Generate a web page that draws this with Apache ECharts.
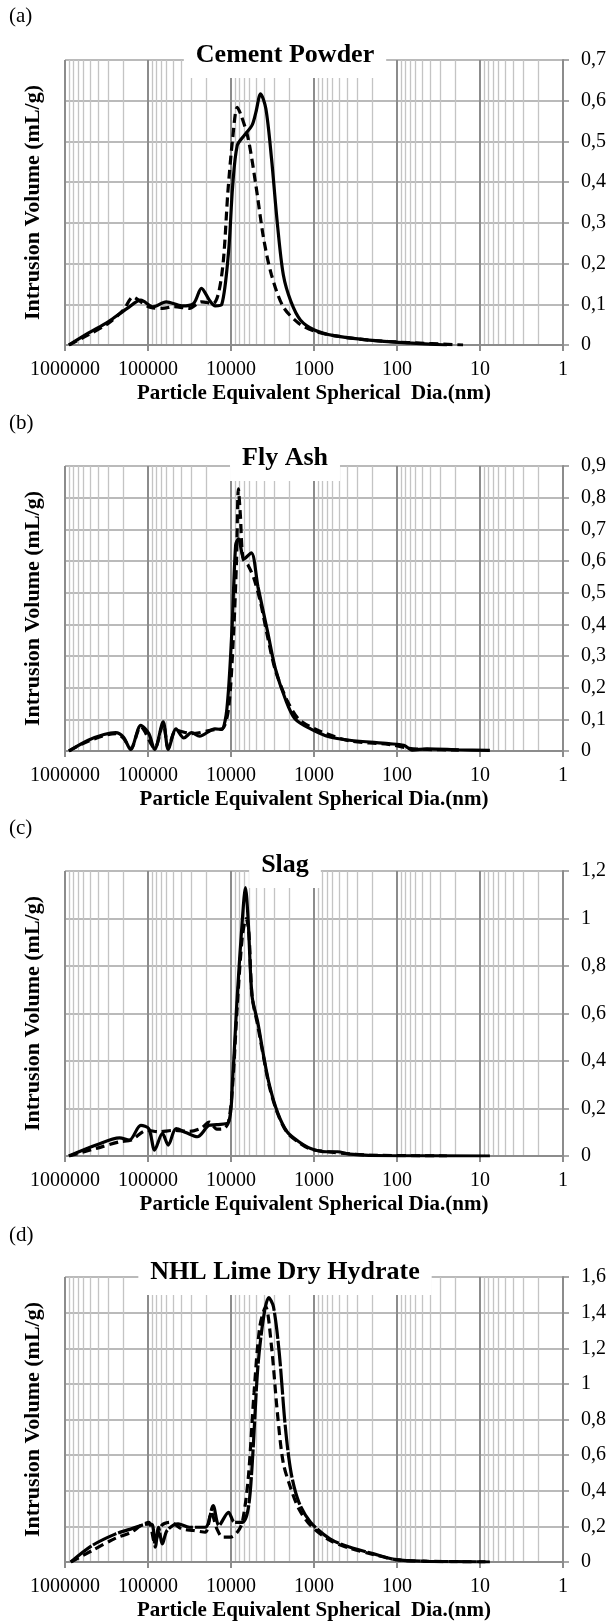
<!DOCTYPE html>
<html>
<head>
<meta charset="utf-8">
<script src="https://cdn.jsdelivr.net/npm/echarts@6/dist/echarts.min.js"></script>
<style>
  html, body { margin: 0; padding: 0; background: #fff; }
  #chart { width: 610px; height: 1624px; }
</style>
</head>
<body>
<div id="chart"></div>
<script>
// panel texts and y scales
const panelLabels = ['(a)', '(b)', '(c)', '(d)']
const panelTitles = ['Cement Powder', 'Fly Ash', 'Slag', 'NHL Lime Dry Hydrate']
const xTitles = [
  'Particle Equivalent Spherical  Dia.(nm)',
  'Particle Equivalent Spherical Dia.(nm)',
  'Particle Equivalent Spherical Dia.(nm)',
  'Particle Equivalent Spherical  Dia.(nm)',
]
const yName = 'Intrusion Volume (mL/g)'
const yMax = [0.7, 0.9, 1.2, 1.6]
const yStep = [0.1, 0.1, 0.2, 0.2]

// [diameter nm, intrusion mL/g]
const cementSolid = [
  [897000, 0], [525000, 0.029], [302000, 0.057], [178000, 0.09], [122000, 0.11],
  [87100, 0.094], [60300, 0.106], [38900, 0.096], [28200, 0.102], [22700, 0.139],
  [18200, 0.11], [15500, 0.096], [12900, 0.1], [10700, 0.229], [9550, 0.39],
  [8410, 0.49], [6920, 0.515], [5570, 0.54], [5010, 0.572], [4400, 0.617],
  [3800, 0.58], [3250, 0.458], [2750, 0.294], [2340, 0.172], [1890, 0.106],
  [1450, 0.061], [990, 0.037], [575, 0.023], [218, 0.012], [74, 0.005], [25, 0],
]
const cementDash = [
  [897000, 0], [525000, 0.025], [302000, 0.053], [198000, 0.086], [151000, 0.118],
  [122000, 0.106], [92700, 0.092], [67000, 0.09], [48400, 0.094], [31600, 0.09],
  [22700, 0.106], [16400, 0.102], [14000, 0.131], [12300, 0.212], [10900, 0.376],
  [9550, 0.507], [8410, 0.584], [7550, 0.564], [6210, 0.507], [5010, 0.392],
  [4040, 0.261], [3250, 0.172], [2350, 0.094], [1520, 0.053], [990, 0.034],
  [575, 0.023], [218, 0.012], [74, 0.006], [16, 0],
]
const flyAshSolid = [
  [897000, 0], [525000, 0.034], [339000, 0.052], [245000, 0.058], [198000, 0.044],
  [162000, 0.005], [122000, 0.081], [97700, 0.055], [83200, 0.005], [65600, 0.092],
  [57000, 0.005], [45900, 0.07], [37000, 0.041], [29800, 0.058], [24000, 0.047],
  [15600, 0.07], [13000, 0.068], [11200, 0.134], [9770, 0.376], [8790, 0.65],
  [8150, 0.67], [6920, 0.607], [5700, 0.626], [4740, 0.52], [3620, 0.376],
  [2920, 0.26], [2220, 0.165], [1700, 0.102], [1100, 0.07], [643, 0.044],
  [374, 0.034], [126, 0.023], [83, 0.018], [66, 0.003], [43, 0.007], [18, 0.004], [7.6, 0.002],
]
const flyAshDash = [
  [897000, 0], [525000, 0.031], [245000, 0.055], [198000, 0.041], [162000, 0.007],
  [122000, 0.076], [83200, 0.009], [65600, 0.086], [57000, 0.009], [45900, 0.065],
  [29800, 0.055], [15600, 0.068], [12700, 0.07], [10700, 0.134], [9380, 0.355],
  [8590, 0.597], [8150, 0.828], [7710, 0.744], [7150, 0.607], [6210, 0.586],
  [5280, 0.544], [4400, 0.468], [3620, 0.36], [2920, 0.255], [2110, 0.16],
  [1520, 0.1], [887, 0.065], [374, 0.032], [126, 0.021], [74, 0.009], [43, 0.005], [18, 0.003],
]
const slagSolid = [
  [897000, 0], [421000, 0.046], [220000, 0.076], [168000, 0.067], [122000, 0.129],
  [97700, 0.115], [83200, 0.025], [67000, 0.095], [57000, 0.046], [45900, 0.115],
  [35100, 0.099], [25400, 0.081], [18300, 0.129], [14800, 0.132], [10700, 0.143],
  [9570, 0.324], [8410, 0.672], [7310, 0.992], [6700, 1.13], [6210, 0.992],
  [5570, 0.672], [4740, 0.56], [4040, 0.42], [3430, 0.296], [2760, 0.185],
  [2110, 0.102], [1520, 0.06], [1100, 0.032], [714, 0.018], [518, 0.018],
  [374, 0.008], [126, 0.001], [7.6, 0],
]
const slagDash = [
  [897000, 0], [421000, 0.032], [220000, 0.06], [159000, 0.067], [103000, 0.108],
  [74700, 0.102], [48400, 0.108], [31500, 0.104], [22700, 0.118], [18300, 0.143],
  [14800, 0.113], [12200, 0.115], [10700, 0.143], [9570, 0.296], [8410, 0.63],
  [7310, 0.922], [6560, 1.0], [6080, 0.936], [5570, 0.672], [4740, 0.546],
  [4040, 0.414], [3430, 0.289], [2760, 0.181], [2110, 0.099], [1520, 0.057],
  [1100, 0.029], [575, 0.015], [218, 0.004], [25, 0],
]
const limeSolid = [
  [851000, 0], [469000, 0.093], [245000, 0.158], [159000, 0.186], [97700, 0.214],
  [87900, 0.205], [81500, 0.084], [74700, 0.195], [67000, 0.102], [58900, 0.177],
  [43400, 0.214], [31500, 0.195], [20400, 0.195], [16400, 0.316], [14000, 0.205],
  [10700, 0.279], [9080, 0.223], [7310, 0.223], [6210, 0.298], [5570, 0.54],
  [4740, 1.098], [4040, 1.377], [3510, 1.485], [3080, 1.433], [2620, 1.172],
  [2220, 0.763], [1890, 0.502], [1520, 0.335], [1100, 0.223], [643, 0.13],
  [374, 0.084], [195, 0.047], [102, 0.013], [43, 0.004], [7.6, 0],
]
const limeDash = [
  [851000, 0], [469000, 0.065], [245000, 0.134], [159000, 0.167], [122000, 0.205],
  [97700, 0.223], [83200, 0.112], [68500, 0.205], [54000, 0.223], [39100, 0.186],
  [28200, 0.177], [20400, 0.167], [17300, 0.279], [14800, 0.186], [12600, 0.14],
  [10100, 0.14], [8410, 0.167], [7310, 0.223], [6210, 0.465], [5280, 0.949],
  [4500, 1.321], [3820, 1.433], [3250, 1.209], [2760, 0.837], [2350, 0.558],
  [1890, 0.409], [1520, 0.298], [1100, 0.205], [643, 0.121], [374, 0.078],
  [195, 0.043], [102, 0.013], [43, 0.004], [7.6, 0],
]

const solidSets = [cementSolid, flyAshSolid, slagSolid, limeSolid]
const dashSets = [cementDash, flyAshDash, slagDash, limeDash]

const FONT = '"Liberation Serif", "Times New Roman", serif'
const gridTops = [60, 466, 871, 1277]
const plotH = 285
const titleCenterY = [55, 458, 865, 1272]
const labelCenterY = [18, 425, 830, 1237]
const titleCenterX = 285

const measure = document.createElement('canvas').getContext('2d')
measure.font = 'bold 26px "Liberation Serif"'

const fmtY = (v) => (v === 0 ? '0' : String(+v.toFixed(1)).replace('.', ','))

const option = {
  animation: false,
  backgroundColor: '#fff',
  textStyle: { fontFamily: FONT },
  title: panelTitles.map((t, i) => ({
    text: t,
    left: titleCenterX - measure.measureText(t).width / 2 - 12,
    top: titleCenterY[i] - 23,
    padding: [10, 12],
    backgroundColor: '#fff',
    textStyle: { fontFamily: FONT, fontSize: 26, fontWeight: 'bold', color: '#000', lineHeight: 26 },
  })),
  graphic: panelLabels.map((t, i) => ({
    type: 'text',
    left: 9,
    top: labelCenterY[i] - 12,
    style: { text: t, font: '21px ' + FONT, fill: '#000' },
  })),
  grid: gridTops.map((top) => ({ left: 65, right: 47, top, height: plotH })),
  xAxis: gridTops.map((_, i) => ({
    gridIndex: i,
    type: 'log',
    logBase: 10,
    min: 1,
    max: 1000000,
    inverse: true,
    name: xTitles[i],
    nameLocation: 'middle',
    nameGap: 38,
    nameTextStyle: { fontFamily: FONT, fontSize: 21, fontWeight: 'bold', color: '#000' },
    axisLine: { lineStyle: { color: '#8c8c8c', width: 2 } },
    axisTick: { show: true, length: 6, lineStyle: { color: '#8c8c8c', width: 2 } },
    axisLabel: {
      margin: 15,
      fontFamily: FONT,
      fontSize: 20,
      color: '#000',
      formatter: (v) => String(Math.round(v)),
    },
    splitLine: { show: true, lineStyle: { color: '#8c8c8c', width: 2 } },
    minorTick: { show: false, splitNumber: 9 },
    minorSplitLine: { show: true, lineStyle: { color: '#c4c4c4', width: 1.3 } },
  })),
  yAxis: [
    ...gridTops.map((_, i) => ({
      gridIndex: i,
      type: 'value',
      position: 'right',
      min: 0,
      max: yMax[i],
      interval: yStep[i],
      axisLine: { show: true, lineStyle: { color: '#8c8c8c', width: 2 } },
      axisTick: { show: true, length: 6, lineStyle: { color: '#8c8c8c', width: 1.5 } },
      axisLabel: { margin: 18, fontFamily: FONT, fontSize: 20, color: '#000', formatter: fmtY },
      splitLine: { show: true, lineStyle: { color: '#a3a3a3', width: 1.6 } },
    })),
    ...gridTops.map((_, i) => ({
      gridIndex: i,
      type: 'value',
      position: 'left',
      min: 0,
      max: 1,
      name: yName,
      nameLocation: 'middle',
      nameGap: 21,
      nameTextStyle: { fontFamily: FONT, fontSize: 22, fontWeight: 'bold', color: '#000' },
      axisLine: { show: false },
      axisTick: { show: false },
      axisLabel: { show: false },
      splitLine: { show: false },
    })),
  ],
  series: [
    ...solidSets.map((data, i) => ({
      type: 'line',
      xAxisIndex: i,
      yAxisIndex: i,
      data,
      smooth: 0.3,
      showSymbol: false,
      lineStyle: { color: '#000', width: 3.2, type: i === 3 ? [26, 2] : 'solid' },
      z: 3,
    })),
    ...dashSets.map((data, i) => ({
      type: 'line',
      xAxisIndex: i,
      yAxisIndex: i,
      data,
      smooth: 0.3,
      showSymbol: false,
      lineStyle: { color: '#000', width: 3.2, type: [9, 5] },
      z: 4,
    })),
  ],
}

const chart = echarts.init(document.getElementById('chart'))
chart.setOption(option)
window.addEventListener('resize', () => chart.resize())
</script>
</body>
</html>
